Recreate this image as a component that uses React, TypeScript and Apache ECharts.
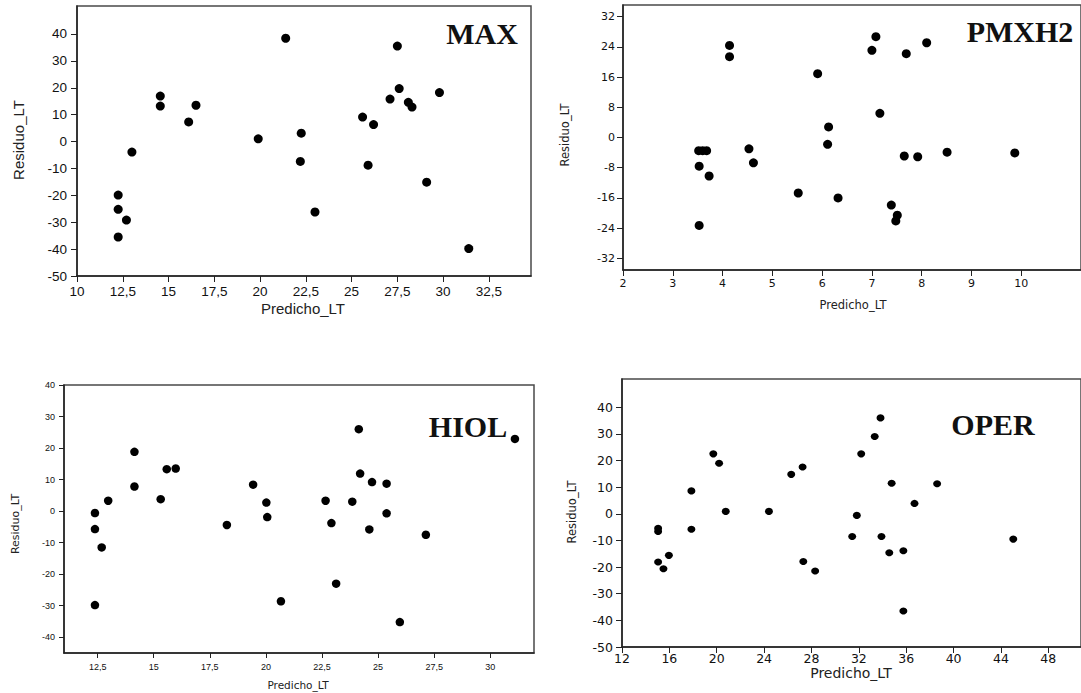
import React, { useEffect, useRef } from "react";
import * as echarts from "echarts";

// ---- MAX ----
const maxPred = [21.4, 27.5, 27.6, 29.8, 14.55, 14.55, 16.5, 27.1, 28.1, 28.3, 16.1, 25.6, 26.2, 19.9, 22.25, 22.2, 25.9, 13.0, 12.25, 12.25, 12.7, 12.25, 23.0, 29.1, 31.4];
const maxResid = [38.4, 35.5, 19.7, 18.2, 16.9, 13.2, 13.5, 15.8, 14.6, 12.8, 7.3, 9.1, 6.3, 1.0, 3.1, -7.4, -8.8, -3.9, -19.9, -25.2, -29.2, -35.5, -26.2, -15.1, -39.8];
const maxXTicks = [10, 12.5, 15, 17.5, 20, 22.5, 25, 27.5, 30, 32.5];
const maxYTicks = [-50, -40, -30, -20, -10, 0, 10, 20, 30, 40];

// ---- PMXH2 ----
const pmxPred = [3.52, 3.6, 3.68, 3.53, 3.73, 3.53, 4.14, 4.14, 4.53, 4.62, 5.52, 5.91, 6.13, 6.11, 6.32, 7.0, 7.08, 7.16, 7.69, 8.1, 7.65, 7.92, 8.51, 9.87, 7.39, 7.51, 7.48];
const pmxResid = [-3.5, -3.5, -3.5, -7.6, -10.2, -23.3, 24.4, 21.4, -3.0, -6.7, -14.7, 16.9, 2.8, -1.8, -16.0, 23.1, 26.7, 6.4, 22.2, 25.1, -4.9, -5.1, -3.9, -4.1, -17.9, -20.6, -22.1];
const pmxXTicks = [2, 3, 4, 5, 6, 7, 8, 9, 10];
const pmxYTicks = [-32, -24, -16, -8, 0, 8, 16, 24, 32];

// ---- HIOL ----
const hiolPred = [12.38, 12.38, 12.68, 12.97, 12.38, 14.14, 14.14, 15.31, 15.58, 15.98, 18.26, 19.43, 20.02, 20.06, 20.67, 22.66, 22.92, 23.13, 23.85, 24.14, 24.2, 24.73, 24.61, 25.38, 25.38, 25.97, 27.13, 31.1];
const hiolResid = [-0.6, -5.7, -11.5, 3.3, -29.8, 18.8, 7.8, 3.8, 13.3, 13.5, -4.4, 8.4, 2.7, -1.9, -28.6, 3.3, -3.8, -23.0, 3.0, 26.0, 11.9, 9.2, -5.8, 8.7, -0.7, -35.2, -7.5, 22.9];
const hiolXTicks = [12.5, 15, 17.5, 20, 22.5, 25, 27.5, 30];
const hiolYTicks = [-40, -30, -20, -10, 0, 10, 20, 30, 40];

// ---- OPER ----
const operPred = [15.05, 15.05, 15.05, 15.5, 15.96, 17.86, 17.86, 19.71, 20.2, 20.76, 24.41, 26.29, 27.25, 27.31, 28.31, 31.44, 31.83, 32.2, 33.34, 33.83, 33.91, 34.77, 34.57, 35.76, 35.76, 36.7, 38.61, 45.04];
const operResid = [-5.4, -6.6, -18.1, -20.6, -15.6, 8.6, -5.8, 22.5, 19.0, 0.9, 0.9, 14.8, 17.6, -17.9, -21.5, -8.5, -0.6, 22.5, 29.0, 36.0, -8.5, 11.5, -14.6, -13.9, -36.5, 3.9, 11.3, -9.5];
const operXTicks = [12, 16, 20, 24, 28, 32, 36, 40, 44, 48];
const operYTicks = [-50, -40, -30, -20, -10, 0, 10, 20, 30, 40];

const titles = ["MAX", "PMXH2", "HIOL", "OPER"];
const xName = "Predicho_LT";
const yName = "Residuo_LT";

export default function App() {
  const ref = useRef<HTMLDivElement>(null);

  useEffect(() => {
    if (!ref.current) return;
    const chart = echarts.init(ref.current, null, { renderer: "svg" });

    const panels = [
      {
        grid: { left: 77, top: 6, width: 454, height: 270 },
        xr: [10, 34.8], yr: [-50, 50.4], xt: maxXTicks, yt: maxYTicks, px: maxPred, py: maxResid,
        font: "Liberation Sans", fs: 13.5, tick: 6, ym: 10, xm: 8, sym: 9,
        title: { x: 482, y: 33 },
        xn: { x: 303, y: 308, fs: 15, font: "Liberation Sans" },
        yn: { x: 18, y: 140, fs: 15, font: "Liberation Sans" },
      },
      {
        grid: { left: 623, top: 5, width: 470, height: 265 },
        xr: [2, 11.2], yr: [-35.1, 35.1], xt: pmxXTicks, yt: pmxYTicks, px: pmxPred, py: pmxResid,
        font: "DejaVu Sans", fs: 11, tick: 6, ym: 8, xm: 8, sym: 9,
        title: { x: 1020, y: 31 },
        xn: { x: 853, y: 305, fs: 11.5, font: "DejaVu Sans" },
        yn: { x: 565, y: 135, fs: 11.5, font: "DejaVu Sans" },
      },
      {
        grid: { left: 64, top: 385, width: 470, height: 268 },
        xr: [11, 31.95], yr: [-45, 40], xt: hiolXTicks, yt: hiolYTicks, px: hiolPred, py: hiolResid,
        font: "Liberation Sans", fs: 9, tick: 5, ym: 9, xm: 9, sym: 8.5,
        title: { x: 468, y: 426 },
        xn: { x: 298, y: 685, fs: 10.5, font: "DejaVu Sans" },
        yn: { x: 15, y: 524, fs: 11, font: "DejaVu Sans" },
      },
      {
        grid: { left: 622, top: 379, width: 470, height: 268 },
        xr: [12, 50.76], yr: [-50, 50.6], xt: operXTicks, yt: operYTicks, px: operPred, py: operResid,
        font: "DejaVu Sans", fs: 12.5, tick: 6, ym: 9, xm: 5, sym: [8, 7],
        title: { x: 993, y: 424 },
        xn: { x: 851, y: 673, fs: 14, font: "DejaVu Sans" },
        yn: { x: 572, y: 512, fs: 11.5, font: "DejaVu Sans" },
      },
    ];

    const fmt = (v: number) => String(v).replace(".", ",");

    const grids = panels.map((p) => ({
      ...p.grid,
      show: true,
      borderColor: "#4a4a4a",
      borderWidth: 1.5,
      backgroundColor: "transparent",
    }));

    const xAxes = panels.map((p, i) => ({
      type: "value",
      gridIndex: i,
      min: p.xr[0],
      max: p.xr[1],
      axisLine: { show: true, onZero: false, lineStyle: { color: "#222", width: 1.5 } },
      axisTick: { show: true, inside: false, length: p.tick, customValues: p.xt, lineStyle: { color: "#222", width: 1 } },
      axisLabel: {
        show: true, customValues: p.xt, formatter: fmt, color: "#111",
        fontFamily: p.font, fontSize: p.fs, margin: p.xm, hideOverlap: false,
      },
      splitLine: { show: false },
    }));

    const yAxes = panels.map((p, i) => ({
      type: "value",
      gridIndex: i,
      min: p.yr[0],
      max: p.yr[1],
      axisLine: { show: true, onZero: false, lineStyle: { color: "#222", width: 1.5 } },
      axisTick: { show: true, inside: false, length: p.tick, customValues: p.yt, lineStyle: { color: "#222", width: 1 } },
      axisLabel: {
        show: true, customValues: p.yt, formatter: fmt, color: "#111",
        fontFamily: p.font, fontSize: p.fs, margin: p.ym, hideOverlap: false,
      },
      splitLine: { show: false },
    }));

    const series = panels.map((p, i) => ({
      type: "scatter",
      xAxisIndex: i,
      yAxisIndex: i,
      symbol: "circle",
      symbolSize: p.sym,
      itemStyle: { color: "#000", opacity: 1 },
      data: p.px.map((x, k) => [x, p.py[k]]),
      silent: true,
    }));

    const graphic: any[] = [];
    panels.forEach((p, i) => {
      graphic.push({
        type: "text",
        x: p.title.x,
        y: p.title.y,
        style: {
          text: titles[i],
          fill: "#111",
          fontFamily: "Liberation Serif",
          fontWeight: "bold",
          fontSize: 30,
          align: "center",
          verticalAlign: "middle",
          textAlign: "center",
          textVerticalAlign: "middle",
        },
      });
      graphic.push({
        type: "text",
        x: p.xn.x,
        y: p.xn.y,
        style: {
          text: xName,
          fill: "#222",
          fontFamily: p.xn.font,
          fontSize: p.xn.fs,
          align: "center",
          verticalAlign: "middle",
          textAlign: "center",
          textVerticalAlign: "middle",
        },
      });
      graphic.push({
        type: "text",
        x: p.yn.x,
        y: p.yn.y,
        rotation: Math.PI / 2,
        style: {
          text: yName,
          fill: "#222",
          fontFamily: p.yn.font,
          fontSize: p.yn.fs,
          align: "center",
          verticalAlign: "middle",
          textAlign: "center",
          textVerticalAlign: "middle",
        },
      });
    });

    chart.setOption({
      animation: false,
      backgroundColor: "#fff",
      grid: grids,
      xAxis: xAxes,
      yAxis: yAxes,
      series,
      graphic,
    } as any);

    return () => chart.dispose();
  }, []);

  return (
    <div
      ref={ref}
      style={{ position: "absolute", left: 0, top: 0, width: 1081, height: 693, background: "#fff" }}
    />
  );
}
